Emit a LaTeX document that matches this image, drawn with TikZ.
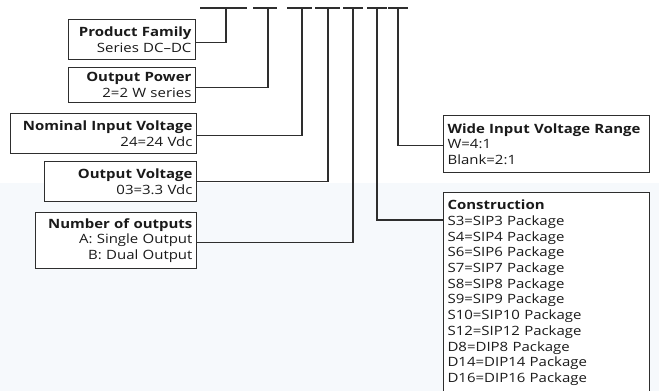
\documentclass[tikz,border=0pt]{standalone}
\usepackage{fontspec}
\setmainfont{Open Sans}[FakeStretch=1.17]
\usepackage{tikz}
\usetikzlibrary{positioning, calc}
\definecolor{LineGray}{HTML}{2E2E2E}
\definecolor{TextDark}{HTML}{1A1A1A}
\definecolor{BgTint}{HTML}{F6F9FC}

\begin{document}
\begin{tikzpicture}[
    x=1pt, y=-1pt,
    field/.style={draw=LineGray, line width=1.1pt, fill=white, inner xsep=4pt, inner ysep=2pt, text=TextDark,
        font=\fontsize{12.8}{15.7}\selectfont, anchor=north east, align=right},
    fieldR/.style={field, anchor=north west, align=left},
    lead/.style={draw=LineGray, line width=1.1pt}
]
\useasboundingbox (0,0) rectangle (659,391);
\fill[BgTint] (0,183) rectangle (659,391);

% Code positions along the top bar
\foreach \name/\xx/\lft/\rgt in {c1/226/26/21, c2/268/15/9, c3/302/15/10, c4/328/13/12, c5/353/10/10, c6/377/10/10, c7/398/10/10}{
  \coordinate (\name) at (\xx,8);
  \draw[lead] ($(\name)+(-\lft,0)$) -- ($(\name)+(\rgt,0)$);
}

% Left-hand fields
\node[field, text width=119pt, minimum height=40pt] (pf) at (196,19) {\textbf{Product Family}\\Series DC\textendash DC};
\node[field, text width=119pt, minimum height=35pt] (op) at (196,67) {\textbf{Output Power}\\2=2 W series};
\node[field, text width=178pt, minimum height=40pt] (niv) at (197,113) {\textbf{Nominal Input Voltage}\\24=24 Vdc};
\node[field, text width=144pt, minimum height=40pt] (ov) at (197,161) {\textbf{Output Voltage}\\03=3.3 Vdc};
\node[field, text width=153pt, minimum height=56pt] (nout) at (197,212) {\textbf{Number of outputs}\\A: Single Output\\B: Dual Output};

% Right-hand fields
\node[fieldR, text width=198pt, minimum height=57pt] (wivr) at (443,115) {\textbf{Wide Input Voltage Range}\\W=4:1\\Blank=2:1};
\node[fieldR, text width=198pt, inner ysep=7.5pt] (con) at (443,192) {\textbf{Construction}\\S3=SIP3 Package\\S4=SIP4 Package\\S6=SIP6 Package\\S7=SIP7 Package\\S8=SIP8 Package\\S9=SIP9 Package\\S10=SIP10 Package\\S12=SIP12 Package\\D8=DIP8 Package\\D14=DIP14 Package\\D16=DIP16 Package};

% Leaders up to the code positions
\draw[lead] ($(pf.east)+(0,3)$) -| (c1);
\draw[lead] ($(op.east)+(0,2.5)$) -| (c2);
\draw[lead] ($(niv.east)+(0,2)$) -| (c3);
\draw[lead] (ov.east) -| (c4);
\draw[lead] ($(nout.east)+(0,2)$) -| (c5);
\draw[lead] ($(con.north west)+(0,28)$) -| (c6);
\draw[lead] ($(wivr.west)+(0,1.5)$) -| (c7);

\end{tikzpicture}
\end{document}
